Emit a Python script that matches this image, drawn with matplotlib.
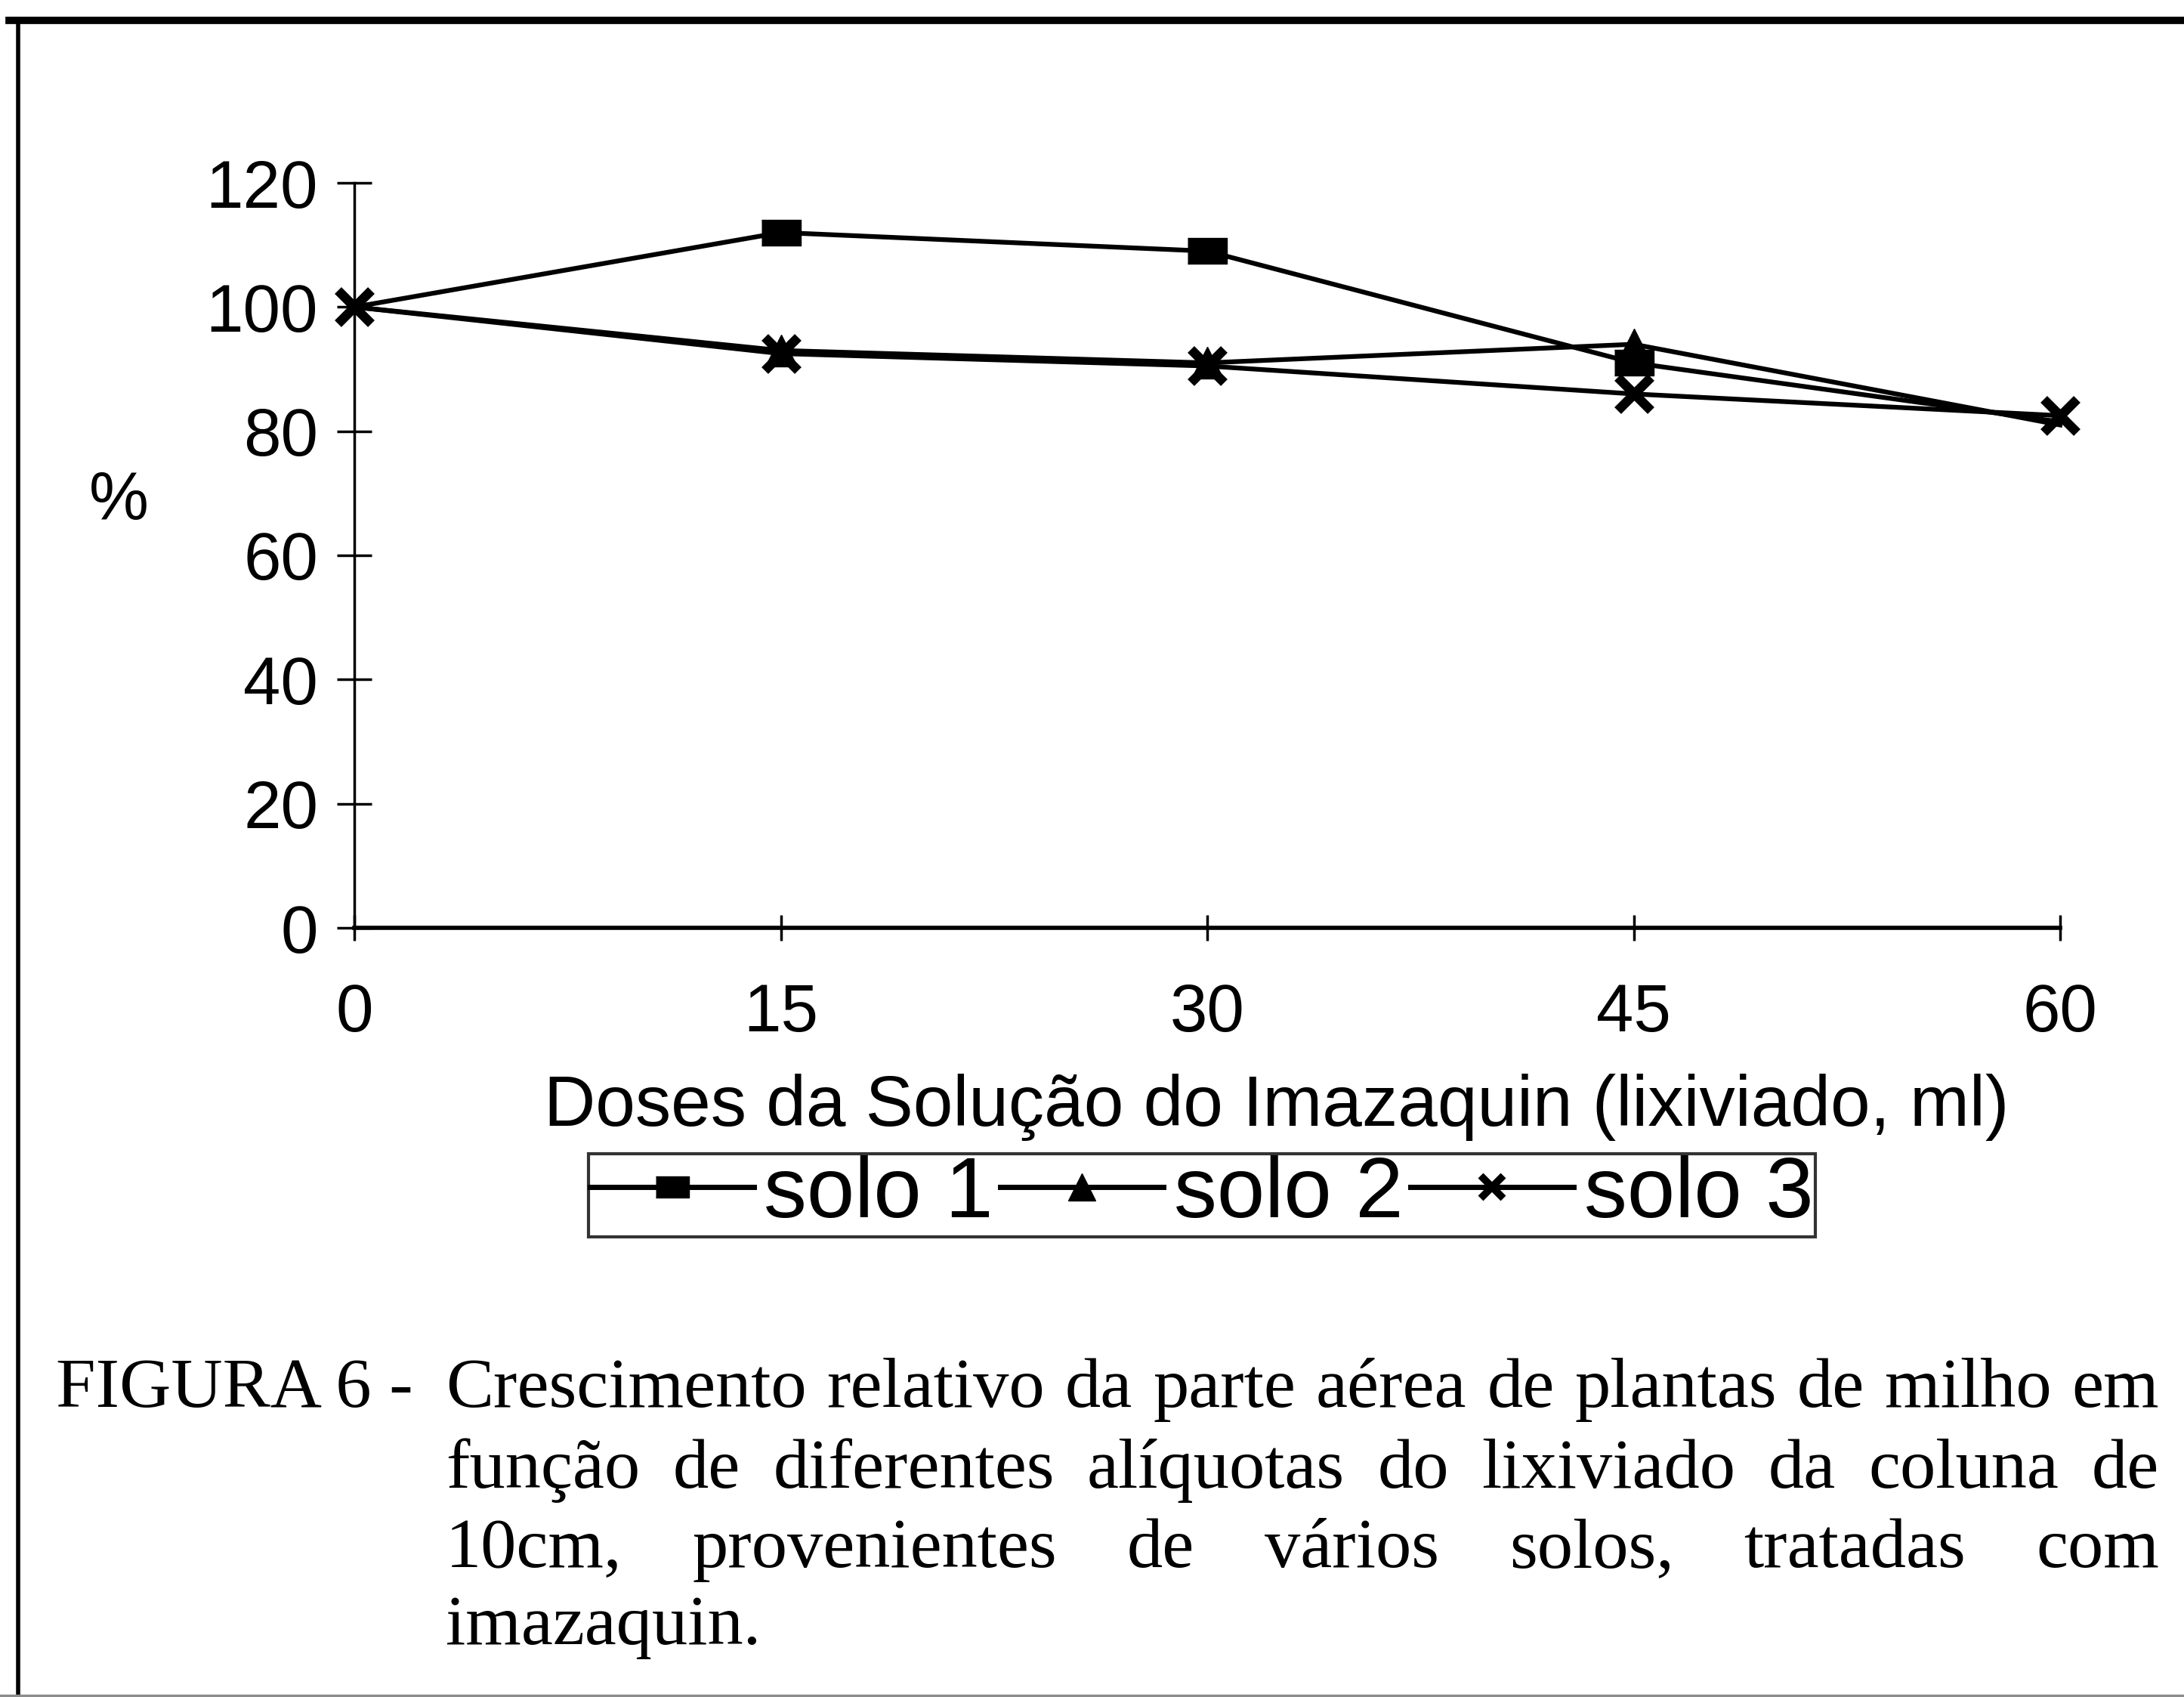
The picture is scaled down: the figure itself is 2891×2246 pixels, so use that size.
import matplotlib
matplotlib.use("Agg")
import matplotlib.pyplot as plt
from matplotlib.lines import Line2D

# Dados
doses = [0, 15, 30, 45, 60]
solo1 = [100, 112, 109, 91, 81.5]
solo2 = [100, 93, 91, 94, 81]
solo3 = [100, 92.5, 90.5, 86, 82.5]
series_names = ["solo 1", "solo 2", "solo 3"]
y_ticks = [0, 20, 40, 60, 80, 100, 120]

x_label = "Doses da Solução do Imazaquin (lixiviado, ml)"
caption_head = "FIGURA 6 -"
caption_lines = [
    "Crescimento relativo da parte aérea de plantas de milho em",
    "função de diferentes alíquotas do lixiviado da coluna de",
    "10cm, provenientes de vários solos, tratadas com",
    "imazaquin.",
]

W, H = 2891, 2246
plt.rcParams["font.family"] = ["Liberation Sans", "DejaVu Sans"]

fig = plt.figure(figsize=(W / 100, H / 100), dpi=100)
ax = fig.add_axes([469 / W, 1 - 1228 / H, (2727 - 469) / W, (1228 - 242) / H])

rect = [(-1, -0.65), (1, -0.65), (1, 0.65), (-1, 0.65)]
ax.plot(doses, solo1, color="black", lw=4.5, marker=rect, markersize=38,
        markevery=[1, 2, 3], clip_on=False, zorder=3)
ax.plot(doses, solo2, color="black", lw=4.5, marker="^", markersize=30,
        markevery=[1, 2, 3], clip_on=False, zorder=3)
ax.plot(doses, solo3, color="black", lw=4.5, marker="x", markersize=32, mew=9,
        clip_on=False, zorder=4)

ax.set_xlim(0, 60)
ax.set_ylim(0, 120)
ax.set_xticks(doses)
ax.set_yticks(y_ticks)
for s in ["top", "right"]:
    ax.spines[s].set_visible(False)
ax.spines["left"].set_linewidth(2.5)
ax.spines["bottom"].set_linewidth(4)
ax.tick_params(axis="y", direction="inout", length=33, width=2.5, labelsize=64, pad=18)
ax.tick_params(axis="x", direction="inout", length=24, width=2.5, labelsize=64, pad=40)

fig.text(157 / W, 1 - 664 / H, "%", fontsize=64, ha="center", va="center")
fig.text(1690 / W, 1 - 1466 / H, x_label, fontsize=68, ha="center", va="center")

handles = [
    Line2D([], [], color="black", lw=5, marker=rect, markersize=32),
    Line2D([], [], color="black", lw=5, marker="^", markersize=26),
    Line2D([], [], color="black", lw=5, marker="x", markersize=22, mew=7),
]
leg = fig.legend(handles, series_names, loc="center", ncol=3,
                 bbox_to_anchor=(1591 / W, 1 - 1582 / H), fontsize=82,
                 frameon=True, fancybox=False, edgecolor="black",
                 handlelength=1.9, handletextpad=0.12, columnspacing=0.08,
                 borderpad=0.02, borderaxespad=0)
leg.get_frame().set_linewidth(3)

# Legenda da figura, justificada
cap_size = 68
serif = ["Liberation Serif", "DejaVu Serif"]
fig.text(74 / W, 1 - 1862 / H, caption_head, fontsize=cap_size, family=serif, va="baseline")
baselines = [1862, 1969, 2074, 2176]
left, right = 590, 2858
renderer = fig.canvas.get_renderer()
for i, (line, yb) in enumerate(zip(caption_lines, baselines)):
    y = 1 - yb / H
    if i == len(caption_lines) - 1:
        fig.text(left / W, y, line, fontsize=cap_size, family=serif, va="baseline")
        continue
    words = line.split()
    objs = [fig.text(0, y, w, fontsize=cap_size, family=serif, va="baseline") for w in words]
    widths = [o.get_window_extent(renderer).width for o in objs]
    gap = (right - left - sum(widths)) / (len(words) - 1)
    x = left
    for o, wd in zip(objs, widths):
        o.set_x(x / W)
        x += wd + gap

# Moldura
fig.add_artist(Line2D([0.004, 1], [1 - 27 / H, 1 - 27 / H], color="black", lw=7))
fig.add_artist(Line2D([24 / W, 24 / W], [0, 1 - 27 / H], color="black", lw=4))
fig.add_artist(Line2D([0, 1], [2 / H, 2 / H], color="0.55", lw=2.5))

fig.savefig("out.png", dpi=100)
